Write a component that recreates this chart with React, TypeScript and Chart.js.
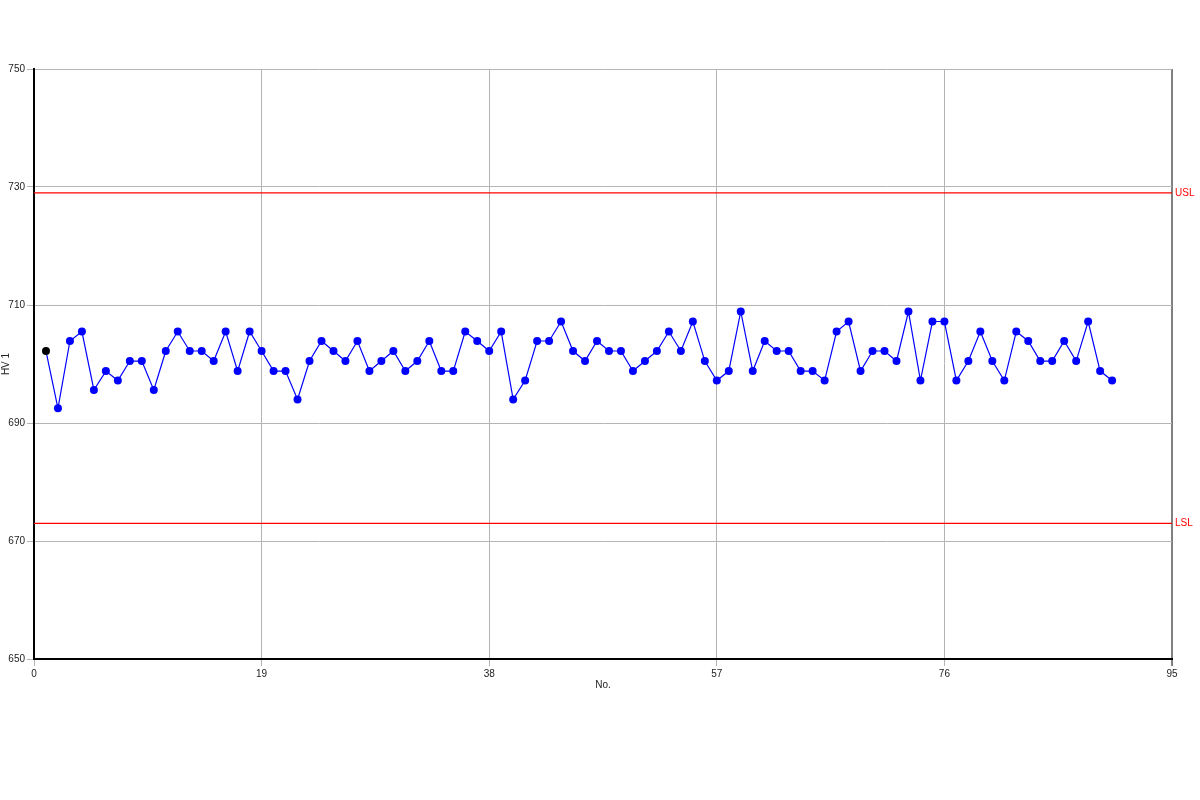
import React, { useEffect, useRef } from "react";
import { Chart, registerables } from "chart.js";

Chart.register(...registerables);

const hvValues: number[] = [
  702.2, 692.5, 703.9, 705.5, 695.6, 698.8, 697.2, 700.5, 700.5, 695.6,
  702.2, 705.5, 702.2, 702.2, 700.5, 705.5, 698.8, 705.5, 702.2, 698.8,
  698.8, 694.0, 700.5, 703.9, 702.2, 700.5, 703.9, 698.8, 700.5, 702.2,
  698.8, 700.5, 703.9, 698.8, 698.8, 705.5, 703.9, 702.2, 705.5, 694.0,
  697.2, 703.9, 703.9, 707.2, 702.2, 700.5, 703.9, 702.2, 702.2, 698.8,
  700.5, 702.2, 705.5, 702.2, 707.2, 700.5, 697.2, 698.8, 708.9, 698.8,
  703.9, 702.2, 702.2, 698.8, 698.8, 697.2, 705.5, 707.2, 698.8, 702.2,
  702.2, 700.5, 708.9, 697.2, 707.2, 707.2, 697.2, 700.5, 705.5, 700.5,
  697.2, 705.5, 703.9, 700.5, 700.5, 703.9, 700.5, 707.2, 698.8, 697.2,
];
const sampleNos: number[] = hvValues.map((_, i) => i + 1);

const USL = 729;
const LSL = 673;
const X_MIN = 0;
const X_MAX = 95;
const X_STEP = 19;
const Y_MIN = 650;
const Y_MAX = 750;
const Y_STEP = 20;

const FONT = "'Liberation Sans', Arial, sans-serif";

const limitLabels = {
  id: "limitLabels",
  afterDatasetsDraw(chart: any) {
    const { ctx, chartArea, scales } = chart;
    ctx.save();
    ctx.font = `10px ${FONT}`;
    ctx.fillStyle = "#ff0000";
    ctx.textAlign = "left";
    ctx.textBaseline = "middle";
    ctx.fillText("USL", chartArea.right + 3, scales.y.getPixelForValue(USL));
    ctx.fillText("LSL", chartArea.right + 3, scales.y.getPixelForValue(LSL));
    ctx.restore();
  },
};

export default function App() {
  const ref = useRef<HTMLCanvasElement | null>(null);

  useEffect(() => {
    if (!ref.current) return;
    const chart = new Chart(ref.current, {
      type: "line",
      data: {
        datasets: [
          {
            label: "HV 1",
            data: sampleNos.map((n, i) => ({ x: n, y: hvValues[i] })),
            borderColor: "#0000ff",
            borderWidth: 1.2,
            pointRadius: 4,
            pointBorderWidth: 0,
            pointBackgroundColor: sampleNos.map((_, i) => (i === 0 ? "#000000" : "#0000ff")),
            pointBorderColor: sampleNos.map((_, i) => (i === 0 ? "#000000" : "#0000ff")),
            tension: 0,
            order: 0,
          },
          {
            label: "USL",
            data: [
              { x: X_MIN, y: USL },
              { x: X_MAX, y: USL },
            ],
            borderColor: "#ff0000",
            borderWidth: 1.2,
            pointRadius: 0,
            order: 1,
          },
          {
            label: "LSL",
            data: [
              { x: X_MIN, y: LSL },
              { x: X_MAX, y: LSL },
            ],
            borderColor: "#ff0000",
            borderWidth: 1.2,
            pointRadius: 0,
            order: 1,
          },
        ],
      },
      options: {
        responsive: false,
        animation: false,
        layout: { padding: { left: 0, right: 28, top: 69, bottom: 109 } },
        plugins: {
          legend: { display: false },
          tooltip: { enabled: false },
        },
        scales: {
          x: {
            type: "linear",
            min: X_MIN,
            max: X_MAX,
            ticks: {
              stepSize: X_STEP,
              color: "#222",
              font: { family: FONT, size: 10 },
              padding: 2,
              maxRotation: 0,
            },
            grid: {
              color: (c: any) => (c.tick && c.tick.value === X_MAX ? "#808080" : "#b4b4b4"),
              lineWidth: (c: any) => (c.tick && c.tick.value === X_MAX ? 2 : 1),
              tickLength: 7,
            },
            border: { color: "#000000", width: 2 },
            title: {
              display: true,
              text: "No.",
              color: "#222",
              font: { family: FONT, size: 10 },
              padding: 0,
            },
            afterFit: (s: any) => {
              s.height = 32;
            },
          },
          y: {
            type: "linear",
            min: Y_MIN,
            max: Y_MAX,
            ticks: {
              stepSize: Y_STEP,
              color: "#222",
              font: { family: FONT, size: 10 },
              padding: 2,
            },
            grid: {
              color: "#b4b4b4",
              lineWidth: 1,
              tickLength: 7,
            },
            border: { color: "#000000", width: 2 },
            title: {
              display: true,
              text: "HV 1",
              color: "#222",
              font: { family: FONT, size: 10 },
              padding: 0,
            },
            afterFit: (s: any) => {
              s.width = 34;
            },
          },
        },
      },
      plugins: [limitLabels],
    });
    return () => chart.destroy();
  }, []);

  return (
    <div style={{ position: "absolute", left: 0, top: 0, width: 1200, height: 800, background: "#fff" }}>
      <canvas ref={ref} width={1200} height={800} style={{ display: "block", width: 1200, height: 800 }} />
    </div>
  );
}
